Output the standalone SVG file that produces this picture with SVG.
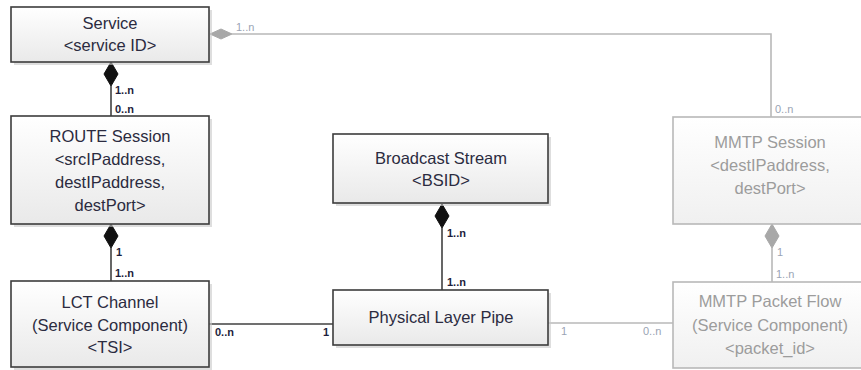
<svg xmlns="http://www.w3.org/2000/svg" width="861" height="370" viewBox="0 0 861 370">
<defs>
<linearGradient id="gb" x1="0" y1="0" x2="0" y2="1">
<stop offset="0" stop-color="#ffffff"/>
<stop offset="1" stop-color="#e9e9e9"/>
</linearGradient>
<linearGradient id="gg" x1="0" y1="0" x2="0" y2="1">
<stop offset="0" stop-color="#ffffff"/>
<stop offset="1" stop-color="#f0f0f0"/>
</linearGradient>
</defs>
<style>
.shadow{fill:#c8c8c8;opacity:0.6}
.box{fill:url(#gb);stroke:#3c3c3c;stroke-width:1.6}
.gbox{fill:url(#gg);stroke:#b8b8b8;stroke-width:1.6}
.t{font-family:"Liberation Sans",Arial,sans-serif;font-size:16.5px;fill:#2b2b40;text-anchor:middle}
.gt{font-family:"Liberation Sans",Arial,sans-serif;font-size:16.5px;fill:#9c9c9c;text-anchor:middle}
.lbl{font-family:"Liberation Sans",Arial,sans-serif;font-size:11px;font-weight:bold;fill:#1e1e3c}
.glbl{font-family:"Liberation Sans",Arial,sans-serif;font-size:11px;fill:#9aa4b4}
.ln{fill:none;stroke:#404040;stroke-width:1.6}
.gln{fill:none;stroke:#b8b8b8;stroke-width:1.6}
.dia{fill:#111;stroke:#111;stroke-width:1}
.gdia{fill:#a8a8a8;stroke:#a8a8a8;stroke-width:1}
</style>

<g id="connectors">
<!-- Service - ROUTE -->
<line class="ln" x1="111" y1="86" x2="111" y2="116"/>
<polygon class="dia" points="111,62 118,74 111,86 104,74"/>
<text class="lbl" x="115" y="94">1..n</text>
<text class="lbl" x="115" y="113">0..n</text>
<!-- ROUTE - LCT -->
<line class="ln" x1="111" y1="248" x2="111" y2="281"/>
<polygon class="dia" points="111,224 118,236 111,248 104,236"/>
<text class="lbl" x="116" y="256">1</text>
<text class="lbl" x="115" y="277">1..n</text>
<!-- LCT - PLP -->
<line class="ln" x1="209" y1="324" x2="333" y2="324"/>
<text class="lbl" x="215" y="336">0..n</text>
<text class="lbl" x="323" y="336">1</text>
<!-- BS - PLP -->
<line class="ln" x1="442" y1="228" x2="442" y2="290"/>
<polygon class="dia" points="442,204 449,216 442,228 435,216"/>
<text class="lbl" x="447" y="237">1..n</text>
<text class="lbl" x="447" y="286">1..n</text>
<!-- PLP - MMTP Packet Flow -->
<line class="gln" x1="548" y1="323" x2="673" y2="323"/>
<text class="glbl" x="561" y="335">1</text>
<text class="glbl" x="643" y="335">0..n</text>
<!-- Service - MMTP Session -->
<polyline class="gln" points="232,34 771,34 771,117"/>
<polygon class="gdia" points="210,34 221,29 232,34 221,39"/>
<text class="glbl" x="236" y="31">1..n</text>
<text class="glbl" x="775" y="113">0..n</text>
<!-- MMTP Session - Packet Flow -->
<line class="gln" x1="772" y1="248" x2="772" y2="282"/>
<polygon class="gdia" points="772,224 779,236 772,248 765,236"/>
<text class="glbl" x="777" y="256">1</text>
<text class="glbl" x="776" y="278">1..n</text>
</g>

<g id="service">
<rect class="shadow" x="14" y="10" width="198" height="55"/>
<rect class="box" x="11" y="7" width="198" height="55"/>
<text class="t" x="110" y="29">Service</text>
<text class="t" x="110" y="51">&lt;service ID&gt;</text>
</g>

<g id="route-session">
<rect class="shadow" x="14" y="119" width="198" height="108"/>
<rect class="box" x="11" y="116" width="198" height="108"/>
<text class="t" x="110" y="142">ROUTE Session</text>
<text class="t" x="110" y="165">&lt;srcIPaddress,</text>
<text class="t" x="110" y="188">destIPaddress,</text>
<text class="t" x="110" y="211">destPort&gt;</text>
</g>

<g id="lct-channel">
<rect class="shadow" x="14" y="284" width="198" height="86"/>
<rect class="box" x="11" y="281" width="198" height="86"/>
<text class="t" x="110" y="308">LCT Channel</text>
<text class="t" x="110" y="331">(Service Component)</text>
<text class="t" x="110" y="353">&lt;TSI&gt;</text>
</g>

<g id="broadcast-stream">
<rect class="shadow" x="336" y="137" width="215" height="69"/>
<rect class="box" x="333" y="134" width="215" height="69"/>
<text class="t" x="441" y="164">Broadcast Stream</text>
<text class="t" x="441" y="186">&lt;BSID&gt;</text>
</g>

<g id="physical-layer-pipe">
<rect class="shadow" x="336" y="293" width="215" height="55"/>
<rect class="box" x="333" y="290" width="215" height="55"/>
<text class="t" x="441" y="323">Physical Layer Pipe</text>
</g>

<g id="mmtp-session">
<rect class="gbox" x="673" y="117" width="200" height="107"/>
<text class="gt" x="770" y="148">MMTP Session</text>
<text class="gt" x="770" y="171">&lt;destIPaddress,</text>
<text class="gt" x="770" y="194">destPort&gt;</text>
</g>

<g id="mmtp-packet-flow">
<rect class="gbox" x="673" y="282" width="200" height="86"/>
<text class="gt" x="770" y="307">MMTP Packet Flow</text>
<text class="gt" x="770" y="331">(Service Component)</text>
<text class="gt" x="770" y="354">&lt;packet_id&gt;</text>
</g>
</svg>
